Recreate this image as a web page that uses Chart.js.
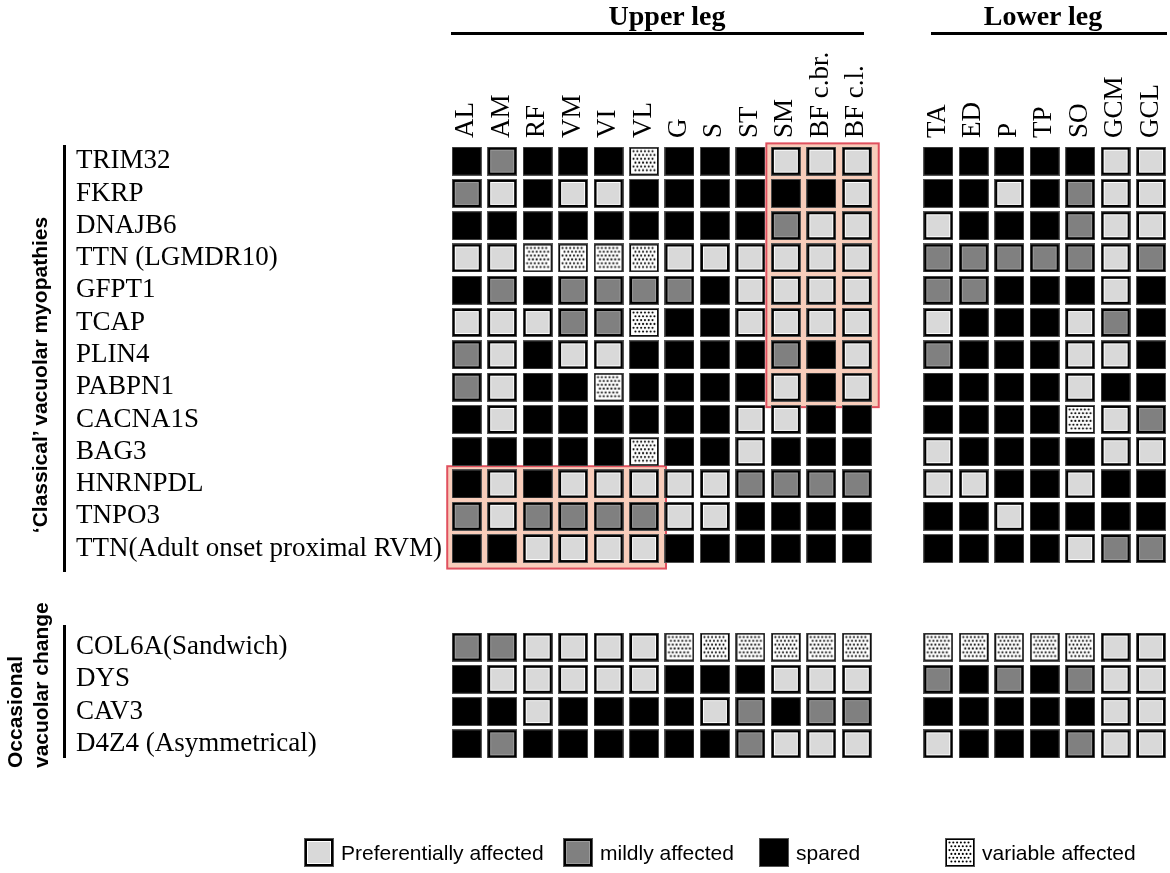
<!DOCTYPE html>
<html><head><meta charset="utf-8">
<script src="https://cdn.jsdelivr.net/npm/chart.js@4.4.1/dist/chart.umd.min.js"></script>
<style>
body{margin:0;background:#fff;}
#wrap{position:relative;width:1170px;height:873px;overflow:hidden;background:#fff;}
#c{position:absolute;left:0;top:0;}
.hdr{position:absolute;font:bold 28px 'Liberation Serif';line-height:28px;text-align:center;width:200px;top:2px;color:#000;}
.hline{position:absolute;top:32px;height:3px;background:#000;}
.vline{position:absolute;left:63px;width:3px;background:#000;}
.grp{position:absolute;font:bold 21px 'Liberation Sans';line-height:26px;transform:rotate(-90deg);white-space:nowrap;color:#000;}
.legbox{position:absolute;top:838px;}
.legtxt{position:absolute;top:838px;height:29px;font:21px 'Liberation Sans';line-height:29px;white-space:nowrap;color:#000;}
</style></head>
<body><div id="wrap">
<canvas id="c" width="1170" height="873"></canvas>
<div class="hdr" style="left:567px">Upper leg</div>
<div class="hline" style="left:451px;width:413px"></div>
<div class="hdr" style="left:943px">Lower leg</div>
<div class="hline" style="left:931px;width:236px"></div>
<div class="vline" style="top:145px;height:427px"></div>
<div class="vline" style="top:625px;height:133px"></div>
<div class="grp" style="left:-160px;top:362px;width:400px;height:26px;text-align:center">‘Classical’ vacuolar myopathies</div>
<div class="grp" style="left:-72px;top:642px;width:200px;height:52px;text-align:left">Occasional<br>vacuolar change</div>
<div id="legend"></div>
</div>
<script>
// ---- data ----
const upperMuscles = ['AL','AM','RF','VM','VI','VL','G','S','ST','SM','BF c.br.','BF c.l.'];
const lowerMuscles = ['TA','ED','P','TP','SO','GCM','GCL'];
const classicalDiseases = ['TRIM32','FKRP','DNAJB6','TTN (LGMDR10)','GFPT1','TCAP','PLIN4','PABPN1','CACNA1S','BAG3','HNRNPDL','TNPO3','TTN(Adult onset proximal RVM)'];
const occasionalDiseases = ['COL6A(Sandwich)','DYS','CAV3','D4Z4 (Asymmetrical)'];
// P = preferentially affected, M = mildly affected, S = spared, V = variable affected
const classicalUpper = ['SMSSSVSSSPPP','MPSPPSSSSSSP','SSSSSSSSSMPP','PPVVVVPPPPPP','SMSMMMMSPPPP','PPPMMVSSPPPP','MPSPPSSSSMSP','MPSSVSSSSPSP','SPSSSSSSPPSS','SSSSSVSSPSSS','SPSPPPPPMMMM','MPMMMMPPSSSS','SSPPPPSSSSSS'];
const classicalLower = ['SSSSSPP','SSPSMPP','PSSSMPP','MMMMMPM','MMSSSPS','PSSSPMS','MSSSPPS','SSSSPSS','SSSSVPM','PSSSSPP','PPSSPSS','SSPSSSS','SSSSPMM'];
const occasionalUpper = ['MMPPPPVVVVVV','SPPPPPSSSPPP','SSPSSSSPMSMM','SMSSSSSSMPPP'];
const occasionalLower = ['VVVVVPP','MSMSMPP','SSSSSPP','PSSSMPP'];
const statusKeys = ['P','M','S','V'];
const statusLabels = ['Preferentially affected','mildly affected','spared','variable affected'];
// highlighted blocks: [first col, last col] of upper leg, [first row, last row] of classical group
const highlights = [{cols:[9,11], rows:[0,7]}, {cols:[0,5], rows:[10,12]}];

// ---- layout constants ----
const LOWER_X0 = 13.3;      // x position of first lower-leg column
const OCC_Y0 = 15.05;       // y position of first occasional row
const CELL_W = 30, CELL_H = 29;

function makeCell(key, w, h){
  const c = document.createElement('canvas'); c.width = w; c.height = h;
  const g = c.getContext('2d');
  g.fillStyle = '#555'; g.fillRect(0,0,w,h);
  g.fillStyle = '#000'; g.fillRect(1,1,w-2,h-2);
  if (key === 'P'){
    g.fillStyle = '#fff'; g.fillRect(3,3,w-6,h-6);
    g.fillStyle = '#d9d9d9'; g.fillRect(4,4,w-8,h-8);
  } else if (key === 'M'){
    g.fillStyle = '#9c9c9c'; g.fillRect(3,3,w-6,h-6);
    g.fillStyle = '#808080'; g.fillRect(4,4,w-8,h-8);
  } else if (key === 'V'){
    g.fillStyle = '#fff'; g.fillRect(2,2,w-4,h-4);
    g.fillStyle = '#000';
    let r = 0;
    for (let y = 4.5; y < h-3; y += 3.8, r++){
      for (let x = (r%2 ? 6.4 : 4.5); x < w-3; x += 3.8){
        g.beginPath(); g.arc(x, y, 1.05, 0, Math.PI*2); g.fill();
      }
    }
  }
  return c;
}
const cellImg = {};
statusKeys.forEach(k => cellImg[k] = makeCell(k, CELL_W, CELL_H));

// ---- build points ----
const xPositions = upperMuscles.map((_, i) => i).concat(lowerMuscles.map((_, j) => LOWER_X0 + j));
const xLabels = upperMuscles.concat(lowerMuscles);
const yPositions = classicalDiseases.map((_, i) => i).concat(occasionalDiseases.map((_, k) => OCC_Y0 + k));
const yLabels = classicalDiseases.concat(occasionalDiseases);

const pts = {P:[], M:[], S:[], V:[]};
function addGroup(upper, lower, y0){
  upper.forEach((row, r) => {
    row.split('').forEach((k, i) => pts[k].push({x: i, y: y0 + r}));
    lower[r].split('').forEach((k, j) => pts[k].push({x: LOWER_X0 + j, y: y0 + r}));
  });
}
addGroup(classicalUpper, classicalLower, 0);
addGroup(occasionalUpper, occasionalLower, OCC_Y0);

const datasets = statusKeys.map((k, i) => ({
  label: statusLabels[i],
  data: pts[k],
  pointStyle: cellImg[k],
  pointRadius: 15,
  showLine: false
}));

const highlightPlugin = {
  id: 'highlight',
  beforeDatasetsDraw(chart){
    const {ctx, scales:{x, y}} = chart;
    ctx.save();
    highlights.forEach(h => {
      const l = x.getPixelForValue(h.cols[0] - 0.55);
      const r = x.getPixelForValue(h.cols[1] + 0.62);
      const t = y.getPixelForValue(h.rows[0] - 0.55);
      const b = y.getPixelForValue(h.rows[1] + 0.62);
      ctx.fillStyle = '#f8cdbb';
      ctx.fillRect(l, t, r - l, b - t);
      ctx.strokeStyle = '#e0505e';
      ctx.lineWidth = 2;
      ctx.strokeRect(l, t, r - l, b - t);
    });
    ctx.restore();
  }
};

new Chart(document.getElementById('c'), {
  type: 'scatter',
  data: {datasets},
  plugins: [highlightPlugin],
  options: {
    responsive: false, animation: false, events: [],
    layout: {autoPadding: false, padding: {left: 76, right: 3, top: 0, bottom: 113}},
    plugins: {legend: {display: false}, tooltip: {enabled: false}},
    scales: {
      x: {
        type: 'linear', position: 'top', min: -0.5, max: 19.75,
        grid: {display: false, drawTicks: false}, border: {display: false},
        afterBuildTicks: s => { s.ticks = xPositions.map(v => ({value: v})); },
        afterFit: s => { s.height = 145; s.paddingLeft = 0; s.paddingRight = 0; },
        ticks: {autoSkip: false, minRotation: 90, maxRotation: 90, padding: 7, color: '#000',
          font: {family: 'Liberation Serif', size: 27, lineHeight: 0.02}, callback: (v, i) => xLabels[i]}
      },
      y: {
        type: 'linear', reverse: true, min: -0.5, max: 18.55,
        grid: {display: false, drawTicks: false}, border: {display: false},
        afterBuildTicks: s => { s.ticks = yPositions.map(v => ({value: v})); },
        afterFit: s => { s.width = 373; s.paddingTop = 0; s.paddingBottom = 0; },
        ticks: {autoSkip: false, crossAlign: 'far', padding: 0, color: '#000',
          font: {family: 'Liberation Serif', size: 27}, callback: (v, i) => yLabels[i]}
      }
    }
  }
});

// ---- legend ----
const legendLeft = [304, 563, 759, 945];
const leg = document.getElementById('legend');
statusKeys.forEach((k, i) => {
  const box = makeCell(k, CELL_W, CELL_H);
  box.className = 'legbox';
  box.style.left = legendLeft[i] + 'px';
  leg.appendChild(box);
  const t = document.createElement('div');
  t.className = 'legtxt';
  t.style.left = (legendLeft[i] + 37) + 'px';
  t.textContent = statusLabels[i];
  leg.appendChild(t);
});
</script>
</body></html>
